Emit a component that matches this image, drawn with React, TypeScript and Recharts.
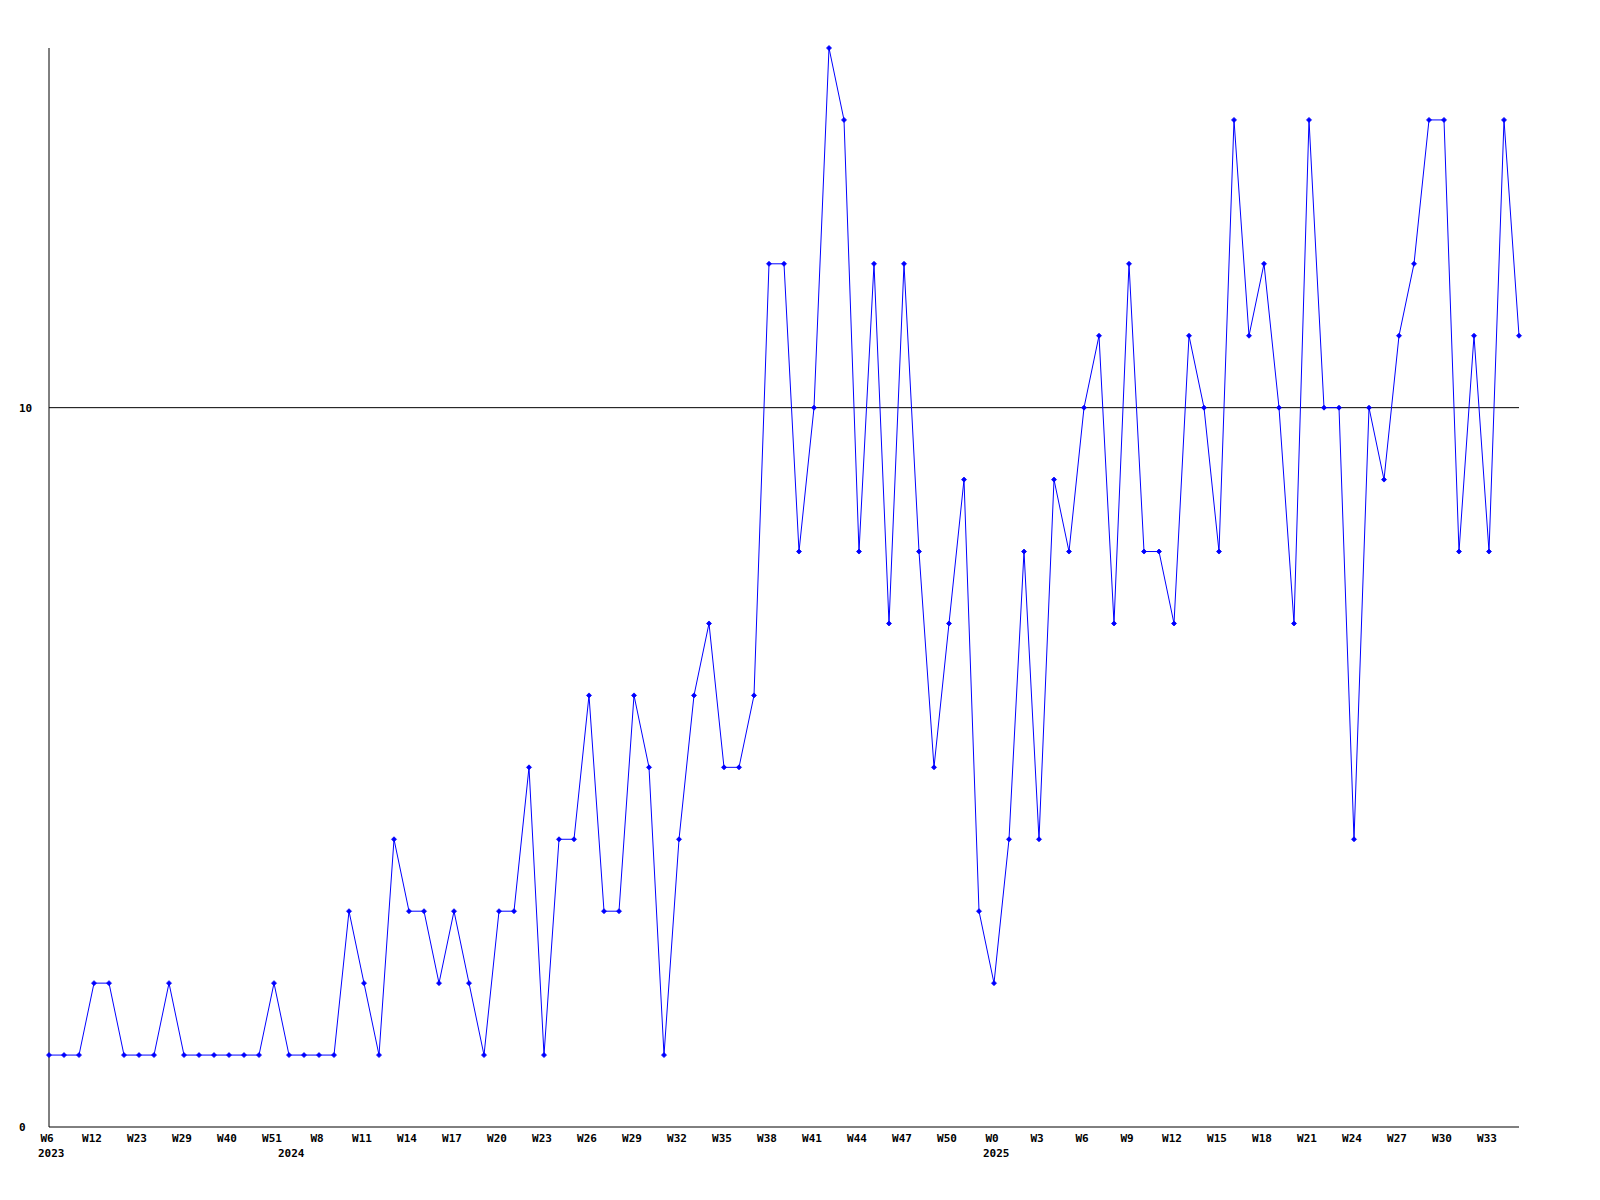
import { LineChart, Line, XAxis, YAxis, ReferenceLine } from 'recharts';

// week label for every point; only every 3rd one is printed on the axis
const WEEKS = [
  'W6', 'W7', 'W9', 'W12', 'W14', 'W17', 'W23', 'W25', 'W27', 'W29', 'W31', 'W35', 'W40', 'W43', 'W47', 'W51',
  'W5', 'W7', 'W8', 'W9', 'W10', 'W11', 'W12', 'W13', 'W14', 'W15', 'W16', 'W17', 'W18', 'W19',
  'W20', 'W21', 'W22', 'W23', 'W24', 'W25', 'W26', 'W27', 'W28', 'W29', 'W30', 'W31', 'W32', 'W33',
  'W34', 'W35', 'W36', 'W37', 'W38', 'W39', 'W40', 'W41', 'W42', 'W43', 'W44', 'W45', 'W46', 'W47',
  'W48', 'W49', 'W50', 'W51', 'W52',
  'W0', 'W1', 'W2', 'W3', 'W4', 'W5', 'W6', 'W7', 'W8', 'W9', 'W10', 'W11', 'W12', 'W13', 'W14',
  'W15', 'W16', 'W17', 'W18', 'W19', 'W20', 'W21', 'W22', 'W23', 'W24', 'W25', 'W26', 'W27', 'W28',
  'W29', 'W30', 'W31', 'W32', 'W33', 'W34', 'W35',
];

// first point of each year gets the year printed under it
const YEAR_STARTS = [
  { index: 0, year: '2023' },
  { index: 16, year: '2024' },
  { index: 63, year: '2025' },
];

const COUNTS = [
  1, 1, 1, 2, 2, 1, 1, 1, 2, 1, 1, 1, 1, 1, 1, 2,
  1, 1, 1, 1, 3, 2, 1, 4, 3, 3, 2, 3, 2, 1,
  3, 3, 5, 1, 4, 4, 6, 3, 3, 6, 5, 1, 4, 6,
  7, 5, 5, 6, 12, 12, 8, 10, 15, 14, 8, 12, 7, 12,
  8, 5, 7, 9, 3,
  2, 4, 8, 4, 9, 8, 10, 11, 7, 12, 8, 8, 7, 11,
  10, 8, 14, 11, 12, 10, 7, 14, 10, 10, 4, 10, 9, 11,
  12, 14, 14, 8, 11, 8, 14, 11,
];

const Y_TICKS = [0, 10];

const data = COUNTS.map((v, i) => ({ key: `${i}-${WEEKS[i]}`, week: WEEKS[i], count: v }));

const FONT = '"DejaVu Sans Mono", monospace';

function WeekTick(props: any) {
  const { x, y, payload } = props;
  const i = payload.index;
  const yr = YEAR_STARTS.find(s => s.index === i);
  return (
    <g>
      {i % 3 === 0 && (
        <text x={x - 2} y={y + 15} textAnchor="middle" fontFamily={FONT} fontWeight="bold" fontSize={11} fill="#000">
          {WEEKS[i]}
        </text>
      )}
      {yr && (
        <text x={x - 11} y={y + 30} textAnchor="start" fontFamily={FONT} fontWeight="bold" fontSize={11} fill="#000">
          {yr.year}
        </text>
      )}
    </g>
  );
}

function CountTick(props: any) {
  const { y, payload } = props;
  return (
    <text x={19} y={y + 4} textAnchor="start" fontFamily={FONT} fontWeight="bold" fontSize={11} fill="#000">
      {payload.value}
    </text>
  );
}

function Marker(props: any) {
  const { cx, cy } = props;
  if (cx == null || cy == null) return null;
  return (
    <path
      d={`M${cx - 2.5},${cy}L${cx},${cy - 2.5}L${cx + 2.5},${cy}L${cx},${cy + 2.5}Z`}
      fill="#0000ff"
      stroke="#0000ff"
      strokeWidth={0.8}
    />
  );
}

export default function App() {
  return (
    <div style={{ position: 'fixed', left: 0, top: 0, width: 1600, height: 1200, overflow: 'hidden', background: '#fff' }}>
      <LineChart width={1600} height={1200} data={data} margin={{ top: 48, right: 81, left: 0, bottom: 0 }}>
        <XAxis
          dataKey="key"
          height={73}
          interval={0}
          tickLine={false}
          tickSize={0}
          tickMargin={0}
          axisLine={{ stroke: '#000' }}
          tick={<WeekTick />}
        />
        <YAxis
          width={49}
          domain={[0, 15]}
          ticks={Y_TICKS}
          tickLine={false}
          axisLine={{ stroke: '#000' }}
          tick={<CountTick />}
        />
        <ReferenceLine y={10} stroke="#000" strokeWidth={1} />
        <Line
          type="linear"
          dataKey="count"
          stroke="#0000ff"
          strokeWidth={1}
          dot={<Marker />}
          activeDot={false}
          isAnimationActive={false}
        />
      </LineChart>
    </div>
  );
}
